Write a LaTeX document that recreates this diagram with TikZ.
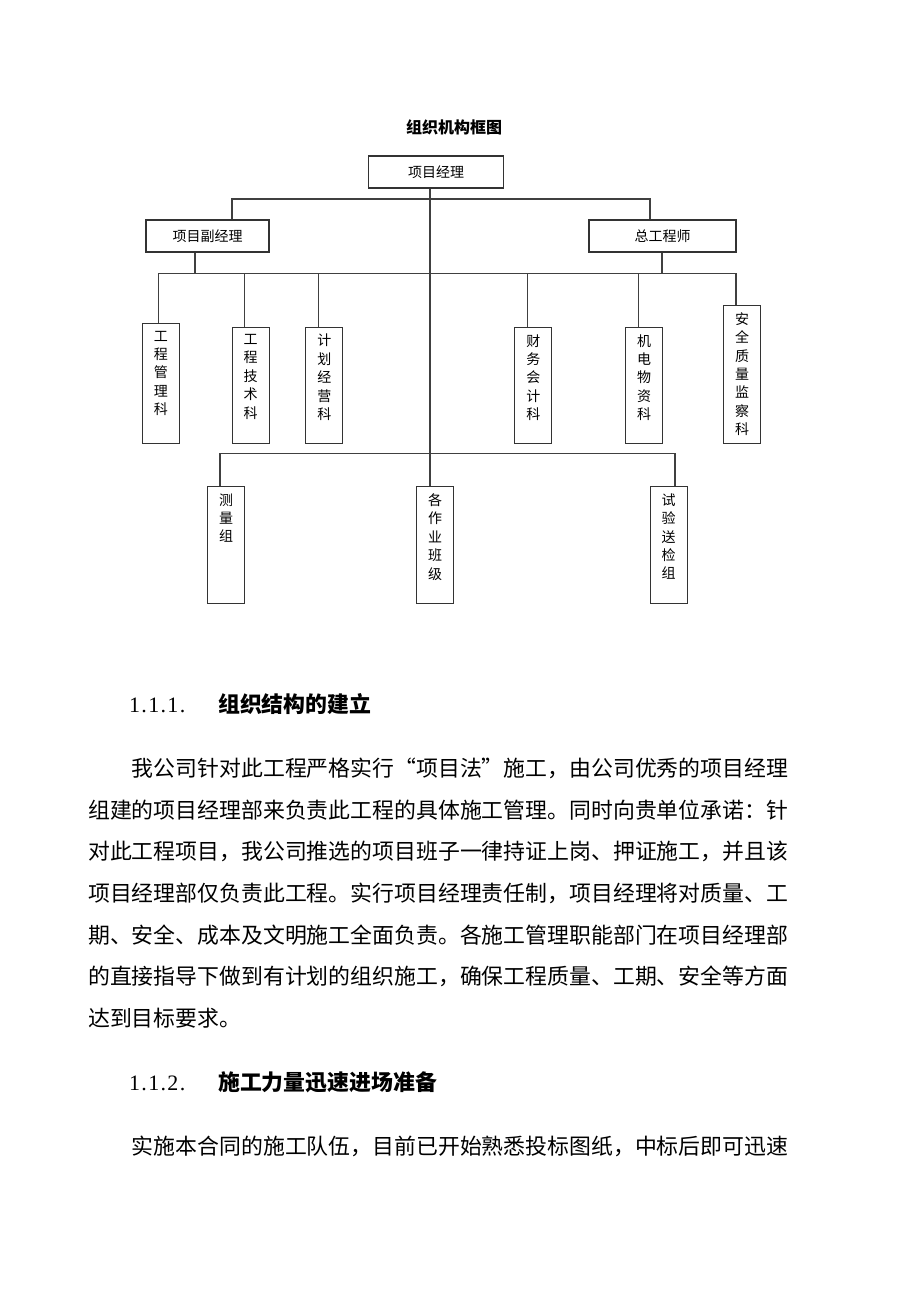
\documentclass[tikz,border=0pt]{standalone}
\usepackage{fontspec}
\setmainfont{Noto Sans CJK SC}
\newfontfamily\numfont[LetterSpace=6]{Liberation Serif}
\newcommand{\boxfont}{\fontsize{14pt}{18.4pt}\selectfont}
\newcommand{\titlefont}{\fontsize{16pt}{18pt}\selectfont\bfseries}
\newcommand{\bodyfont}{\fontsize{21.875pt}{41.7pt}\selectfont}
\newcommand{\vcol}[2]{\parbox[t][#1pt][t]{20pt}{\centering\baselineskip=18.4pt #2}}

\begin{document}
\begin{tikzpicture}[x=1pt,y=-1pt,
    box/.style={draw=black!80, line width=1.1pt, inner sep=0pt, font=\boxfont},
    headbox/.style={box, minimum height=32},
    deptbox/.style={box, anchor=north, inner ysep=7pt, minimum width=37},
    link/.style={draw=black!75, line width=1.2pt},
    body/.style={anchor=base west, inner sep=0pt, font=\bodyfont}]
      \useasboundingbox (0,0) rectangle (920,1302) ;
      \node[font=\titlefont] (title) at (454,127) {组织机构框图} ;
      \node[headbox, minimum width=135] (pm) at (436,172) {项目经理} ;
      \node[headbox, minimum width=123] (dpm) at (207.5,236) {项目副经理} ;
      \node[headbox, minimum width=147] (ce) at (662.5,236) {总工程师} ;
      \node[deptbox] (gcgl) at (160.8,323.3) {\vcol{105.4}{工\\程\\管\\理\\科}} ;
      \node[deptbox] (gcjs) at (250.7,326.7) {\vcol{102}{工\\程\\技\\术\\科}} ;
      \node[deptbox] (jhjy) at (324.3,326.7) {\vcol{102}{计\\划\\经\\营\\科}} ;
      \node[deptbox] (cwkj) at (533.3,326.7) {\vcol{102}{财\\务\\会\\计\\科}} ;
      \node[deptbox] (jdwz) at (644,326.7) {\vcol{102}{机\\电\\物\\资\\科}} ;
      \node[deptbox] (aqzl) at (742.2,305) {\vcol{123.7}{安\\全\\质\\量\\监\\察\\科}} ;
      \node[deptbox] (clz) at (226,486) {\vcol{102.7}{测\\量\\组}} ;
      \node[deptbox] (team) at (435.2,486) {\vcol{102.7}{各\\作\\业\\班\\级}} ;
      \node[deptbox] (syz) at (668.7,486) {\vcol{102.7}{试\\验\\送\\检\\组}} ;
      \coordinate (busA) at (0,199) ;
      \coordinate (busB) at (0,273.3) ;
      \coordinate (busC) at (0,453.3) ;
      \draw[link] (430,0 |- pm.south) -- (430,0 |- team.north) ;
      \draw[link] (232,0 |- dpm.north) -- (232,0 |- busA) -- (650,0 |- busA) -- (650,0 |- ce.north) ;
      \draw[link] (195,0 |- dpm.south) -- (195,0 |- busB) ;
      \draw[link] (662,0 |- ce.south) -- (662,0 |- busB) ;
      \draw[link] (158.7,0 |- busB) -- (736,0 |- busB) ;
      \draw[link] (158.7,0 |- busB) -- (158.7,0 |- gcgl.north) ;
      \draw[link] (244.7,0 |- busB) -- (244.7,0 |- gcjs.north) ;
      \draw[link] (318.3,0 |- busB) -- (318.3,0 |- jhjy.north) ;
      \draw[link] (527.3,0 |- busB) -- (527.3,0 |- cwkj.north) ;
      \draw[link] (638.3,0 |- busB) -- (638.3,0 |- jdwz.north) ;
      \draw[link] (736,0 |- busB) -- (736,0 |- aqzl.north) ;
      \draw[link] (220,0 |- clz.north) -- (220,0 |- busC) -- (675,0 |- busC) -- (675,0 |- syz.north) ;
      \node[anchor=base west, inner sep=0pt, font=\fontsize{22pt}{24pt}\numfont] (n1) at (129,712) {1.1.1.} ;
      \node[body, font=\bodyfont\bfseries] (s1) at (218,712.3) {组织结构的建立} ;
      \node[body] (p1) at (131.75,776.5) {我公司针对此工程严格实行“项目法”施工，由公司优秀的项目经理} ;
      \node[body] (p2) at (88,818) {组建的项目经理部来负责此工程的具体施工管理。同时向贵单位承诺：针} ;
      \node[body] (p3) at (88,859.5) {对此工程项目，我公司推选的项目班子一律持证上岗、押证施工，并且该} ;
      \node[body] (p4) at (88,901.2) {项目经理部仅负责此工程。实行项目经理责任制，项目经理将对质量、工} ;
      \node[body] (p5) at (88,943) {期、安全、成本及文明施工全面负责。各施工管理职能部门在项目经理部} ;
      \node[body] (p6) at (88,984.6) {的直接指导下做到有计划的组织施工，确保工程质量、工期、安全等方面} ;
      \node[body] (p7) at (88,1026.3) {达到目标要求。} ;
      \node[anchor=base west, inner sep=0pt, font=\fontsize{22pt}{24pt}\numfont] (n2) at (129,1090) {1.1.2.} ;
      \node[body, font=\bodyfont\bfseries] (s2) at (218,1090.3) {施工力量迅速进场准备} ;
      \node[body] (p8) at (131.75,1154.3) {实施本合同的施工队伍，目前已开始熟悉投标图纸，中标后即可迅速} ;
    \end{tikzpicture}
\end{document}
